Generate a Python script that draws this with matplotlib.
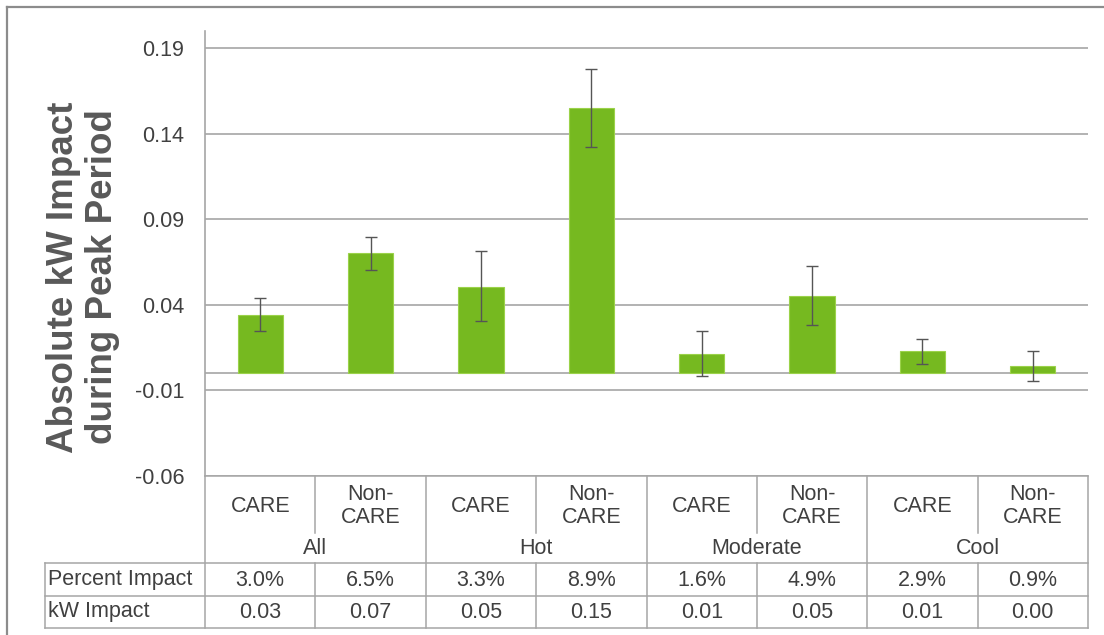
import matplotlib.pyplot as plt
import numpy as np
from matplotlib.lines import Line2D
from matplotlib.transforms import blended_transform_factory

plt.rcParams['font.family'] = ['Liberation Sans', 'DejaVu Sans']

## chart data
segments = ["CARE", "Non-\nCARE", "CARE", "Non-\nCARE", "CARE", "Non-\nCARE", "CARE", "Non-\nCARE"]
groups = ["All", "Hot", "Moderate", "Cool"]
kw_impact = [0.0338, 0.0701, 0.0504, 0.155, 0.0112, 0.0451, 0.0128, 0.0044]
ci_low = [0.0245, 0.0601, 0.0307, 0.1323, -0.0015, 0.0282, 0.0056, -0.0044]
ci_high = [0.0442, 0.0798, 0.0712, 0.1777, 0.0245, 0.0627, 0.0200, 0.0133]
percent_row = ["3.0%", "6.5%", "3.3%", "8.9%", "1.6%", "4.9%", "2.9%", "0.9%"]
kw_row = ["0.03", "0.07", "0.05", "0.15", "0.01", "0.05", "0.01", "0.00"]
yticks = [-0.06, -0.01, 0.04, 0.09, 0.14, 0.19]

text_col = "#404040"
grid_col = "#a6a6a6"
bar_col = "#76b920"

fig = plt.figure(figsize=(11.04, 6.35), dpi=100)
ax = fig.add_axes([205 / 1104, 1 - 476 / 635, 883 / 1104, (476 - 31) / 635])

x = np.arange(len(kw_impact))
vals = np.array(kw_impact)
yerr = np.array([vals - np.array(ci_low), np.array(ci_high) - vals])
ax.bar(x, vals, width=0.41, color=bar_col, edgecolor="#9bd24a", linewidth=0.8, zorder=3)
ax.errorbar(x, vals, yerr=yerr, fmt="none", ecolor="#555555", elinewidth=1.0,
            capsize=4, capthick=1.0, zorder=4)

ax.set_xlim(-0.5, 7.5)
ax.set_ylim(-0.06, 0.2)
ax.set_yticks(yticks)
ax.set_yticklabels([f"{t:.2f}" for t in yticks])
ax.tick_params(axis="y", length=0, pad=15, labelsize=15.5, labelcolor=text_col)
ax.set_xticks([])
ax.yaxis.grid(True, color=grid_col, linewidth=1.2, zorder=0)
ax.axhline(0, color=grid_col, linewidth=1.2, zorder=2)
for s in ["top", "right", "bottom"]:
    ax.spines[s].set_visible(False)
ax.spines["left"].set_color(grid_col)
ax.spines["left"].set_linewidth(1.2)

fig.text(83 / 1104, 1 - 277 / 635, "Absolute kW Impact\nduring Peak Period", rotation=90,
         ha="center", va="center", fontsize=26.5, fontweight="bold", color="#595959",
         linespacing=1.12)

# data table below the axes: x in data units, y in figure fraction
tr = blended_transform_factory(ax.transData, fig.transFigure)
def fy(py):
    return 1 - py / 635

y_top, y_short, y_grp, y_pct, y_kw = fy(476), fy(533), fy(563), fy(596), fy(628)
x_left = -0.5 - 160 / 110.4
lkw = dict(color=grid_col, linewidth=1.1, transform=tr, clip_on=False)

ax.plot([-0.5, 7.5], [y_top, y_top], **lkw)
ax.plot([x_left, 7.5], [y_grp, y_grp], **lkw)
ax.plot([x_left, 7.5], [y_pct, y_pct], **lkw)
ax.plot([x_left, 7.5], [y_kw, y_kw], **lkw)
ax.plot([x_left, x_left], [y_grp, y_kw], **lkw)
for b in np.arange(-0.5, 8.0, 1.0):
    if b in (-0.5, 1.5, 3.5, 5.5, 7.5):
        ax.plot([b, b], [y_top, y_kw], **lkw)
    else:
        ax.plot([b, b], [y_top, y_short], **lkw)
        ax.plot([b, b], [y_grp, y_kw], **lkw)

tkw = dict(transform=tr, ha="center", va="center", fontsize=15.5, color=text_col)
for i, seg in enumerate(segments):
    ax.text(i, fy(506), seg, linespacing=1.15, **tkw)
    ax.text(i, fy(580), percent_row[i], **tkw)
    ax.text(i, fy(612), kw_row[i], **tkw)
for g, name in enumerate(groups):
    ax.text(2 * g + 0.5, fy(548), name, **tkw)

lab = dict(transform=tr, ha="left", va="center", fontsize=15.5, color=text_col)
ax.text(x_left + 0.03, fy(580), "Percent Impact", **lab)
ax.text(x_left + 0.03, fy(612), "kW Impact", **lab)

# outer chart frame
fig.add_artist(Line2D([7 / 1104, 7 / 1104], [0, fy(7)], color="#8c8c8c", linewidth=1.6))
fig.add_artist(Line2D([7 / 1104, 1], [fy(7), fy(7)], color="#8c8c8c", linewidth=1.6))

fig.savefig("out.png", dpi=100)
